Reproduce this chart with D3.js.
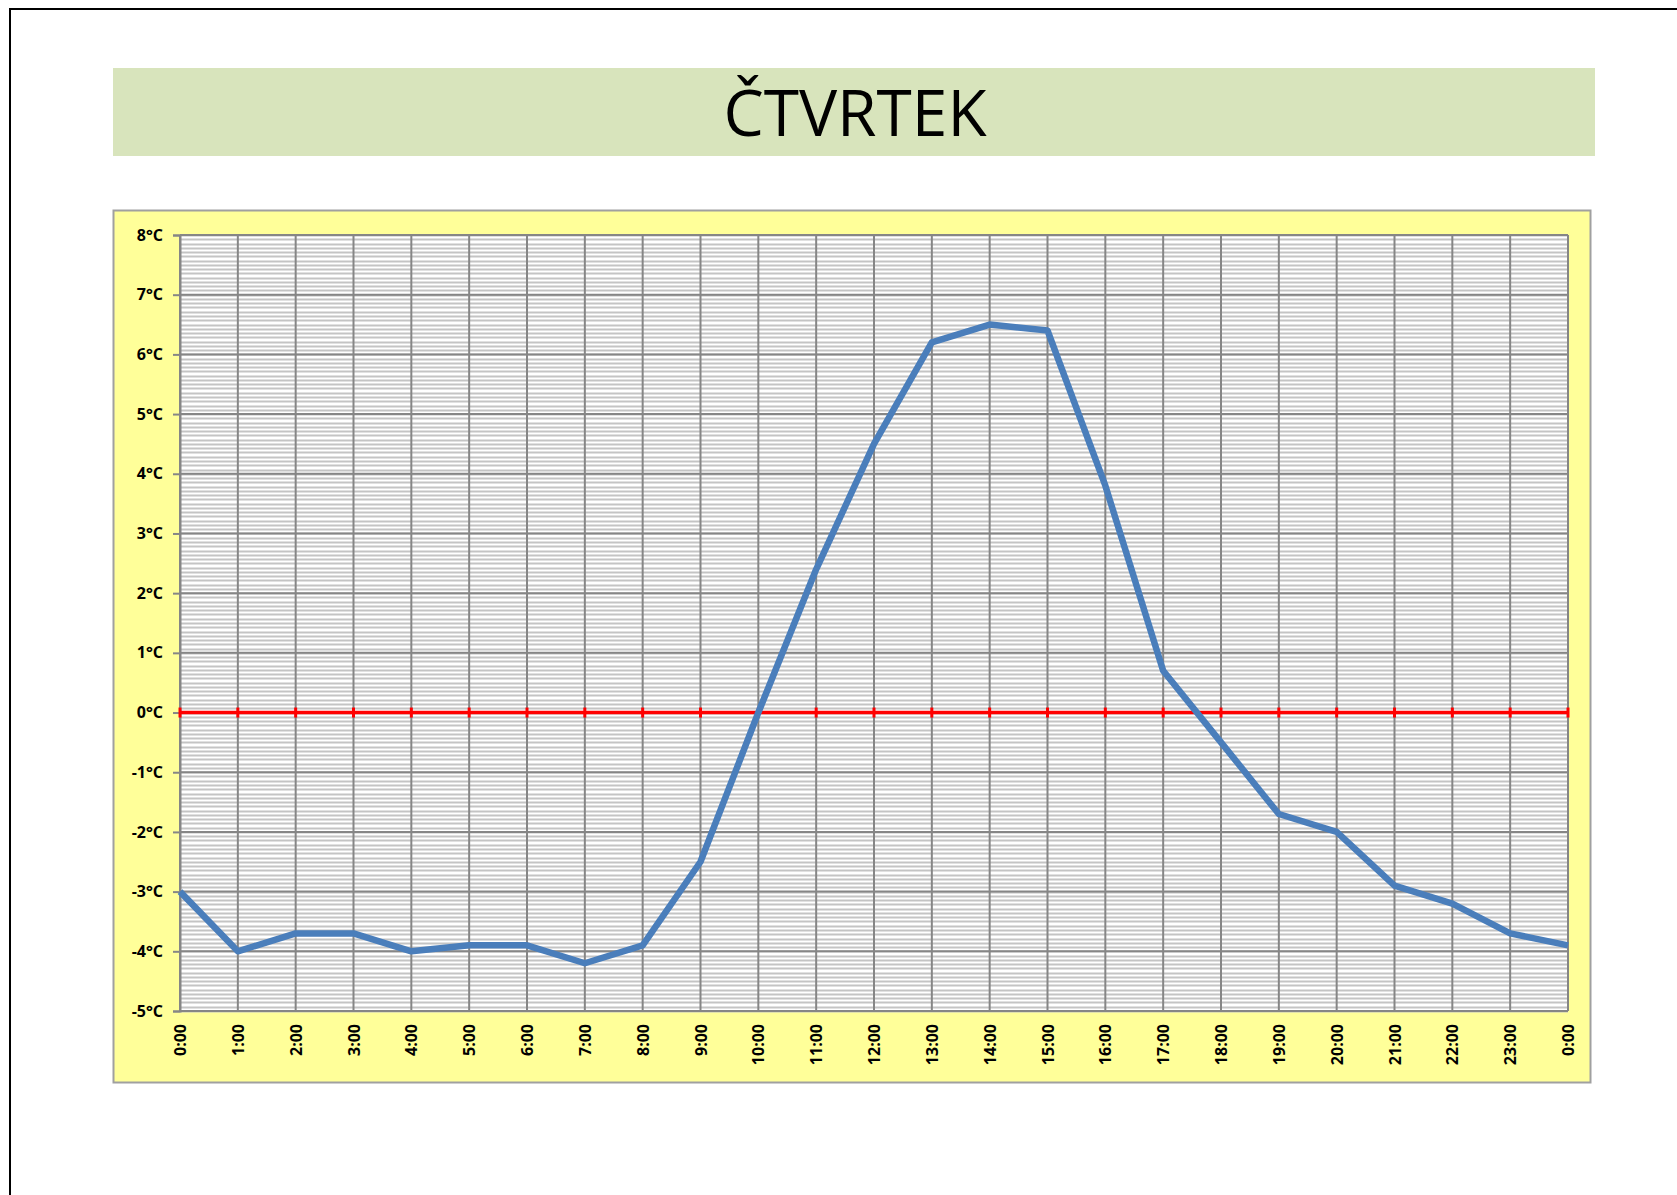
<!DOCTYPE html>
<html>
<head>
<meta charset="utf-8">
<script src="https://cdn.jsdelivr.net/npm/d3@7"></script>
<style>
  html, body { margin: 0; padding: 0; background: #fff; }
  svg { display: block; }
</style>
</head>
<body>
<svg id="chart" width="1677" height="1195"></svg>
<script>
// hours along the x axis, one label per reading
var hourLabels = ["0:00","1:00","2:00","3:00","4:00","5:00","6:00","7:00","8:00","9:00","10:00","11:00",
  "12:00","13:00","14:00","15:00","16:00","17:00","18:00","19:00","20:00","21:00","22:00","23:00","0:00"];
// temperature readings, °C
var temps = [-3, -4, -3.7, -3.7, -4, -3.9, -3.9, -4.2, -3.9, -2.5, 0, 2.4,
  4.5, 6.2, 6.5, 6.4, 3.8, 0.7, -0.5, -1.7, -2, -2.9, -3.2, -3.7, -3.9];
var yTicks = [8, 7, 6, 5, 4, 3, 2, 1, 0, -1, -2, -3, -4, -5];
var titleText = "ČTVRTEK";

var svg = d3.select("#chart");
var labelFont = "'Open Sans', 'Noto Sans', sans-serif";

// page frame (only top and left edges show)
svg.append("line").attr("x1", 10).attr("x2", 1677).attr("y1", 9).attr("y2", 9)
  .attr("stroke", "#000").attr("stroke-width", 2);
svg.append("line").attr("x1", 10).attr("x2", 10).attr("y1", 8).attr("y2", 1195)
  .attr("stroke", "#000").attr("stroke-width", 2);

// title band
svg.append("rect").attr("x", 113).attr("y", 68).attr("width", 1482).attr("height", 88)
  .attr("fill", "#d8e4bc");
svg.append("text").attr("x", 855).attr("y", 136)
  .attr("text-anchor", "middle")
  .style("font-family", "'Open Sans', 'Noto Sans', sans-serif")
  .style("font-size", "64px")
  .attr("fill", "#000")
  .text(titleText);

// chart area
svg.append("rect").attr("x", 113.5).attr("y", 210.5).attr("width", 1477).attr("height", 872)
  .attr("fill", "#ffff99").attr("stroke", "#a0a0a0").attr("stroke-width", 2);

var plotL = 180, plotT = 235, plotR = 1568, plotB = 1011;

var x = d3.scaleLinear().domain([0, temps.length - 1]).range([plotL, plotR]);
var y = d3.scaleLinear().domain([-5, 8]).range([plotB, plotT]);

var plot = svg.append("g");
plot.append("rect").attr("x", plotL).attr("y", plotT).attr("width", plotR - plotL).attr("height", plotB - plotT)
  .attr("fill", "#fff");

// minor horizontal gridlines
var minor = d3.range(0, 13 * 14 + 1).map(function(i){ return -5 + i / 14; });
plot.selectAll(".minor").data(minor).enter().append("line")
  .attr("class", "minor")
  .attr("x1", plotL).attr("x2", plotR)
  .attr("y1", function(d){ return Math.round(y(d)) + 0.5; })
  .attr("y2", function(d){ return Math.round(y(d)) + 0.5; })
  .attr("stroke", "#c4c4c4").attr("stroke-width", 2);

// major horizontal gridlines
plot.selectAll(".hmajor").data(yTicks).enter().append("line")
  .attr("x1", plotL).attr("x2", plotR)
  .attr("y1", function(d){ return y(d); })
  .attr("y2", function(d){ return y(d); })
  .attr("stroke", "#868686").attr("stroke-width", 2);

// vertical gridlines
plot.selectAll(".vmajor").data(hourLabels).enter().append("line")
  .attr("x1", function(d, i){ return x(i); })
  .attr("x2", function(d, i){ return x(i); })
  .attr("y1", plotT).attr("y2", plotB)
  .attr("stroke", "#868686").attr("stroke-width", 2);

// y axis
var yAxis = d3.axisLeft(y).tickValues(yTicks).tickSize(7).tickPadding(10)
  .tickFormat(function(d){ return d + "°C"; });
var yg = svg.append("g").attr("transform", "translate(" + plotL + ",0)").call(yAxis);
yg.select(".domain").attr("stroke", "#868686").attr("stroke-width", 2);
yg.selectAll(".tick line").attr("stroke", "#868686").attr("stroke-width", 2);
yg.selectAll(".tick text")
  .style("font-family", labelFont)
  .style("font-size", "16px").style("font-weight", "bold").attr("fill", "#000");

// bottom frame line
svg.append("line").attr("x1", plotL).attr("x2", plotR).attr("y1", plotB).attr("y2", plotB)
  .attr("stroke", "#868686").attr("stroke-width", 2);

// x labels, rotated
var xAxis = d3.axisBottom(x).tickValues(d3.range(hourLabels.length)).tickSize(0).tickPadding(0)
  .tickFormat(function(i){ return hourLabels[i]; });
var xg = svg.append("g").attr("transform", "translate(0," + plotB + ")").call(xAxis);
xg.select(".domain").remove();
xg.selectAll(".tick text")
  .attr("transform", "rotate(-90)")
  .attr("text-anchor", "end")
  .attr("x", -13).attr("y", 0).attr("dy", "0.35em")
  .style("font-family", labelFont)
  .style("font-size", "16px").style("font-weight", "bold").attr("fill", "#000");

// zero line in red with cross ticks
svg.append("line").attr("x1", plotL).attr("x2", plotR).attr("y1", y(0)).attr("y2", y(0))
  .attr("stroke", "#ff0000").attr("stroke-width", 3.5);
svg.selectAll(".zt").data(hourLabels).enter().append("line")
  .attr("x1", function(d, i){ return x(i); })
  .attr("x2", function(d, i){ return x(i); })
  .attr("y1", y(0) - 5).attr("y2", y(0) + 5)
  .attr("stroke", "#ff0000").attr("stroke-width", 3);

// temperature line
var line = d3.line().x(function(d, i){ return x(i); }).y(function(d){ return y(d); });
svg.append("path").datum(temps)
  .attr("d", line)
  .attr("fill", "none")
  .attr("stroke", "#4a7ebb")
  .attr("stroke-width", 6.5)
  .attr("stroke-linejoin", "round");
</script>
</body>
</html>
